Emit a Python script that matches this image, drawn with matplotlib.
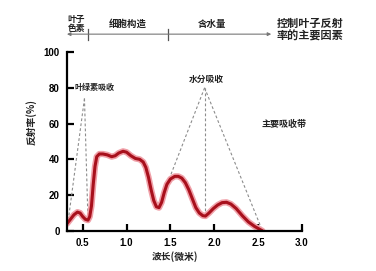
import matplotlib
matplotlib.use("Agg")
import matplotlib.pyplot as plt

plt.rcParams['font.family'] = ['Noto Sans CJK SC', 'DejaVu Sans']

# reflectance curve (wavelength in micron, reflectance in %)
wavelength = [0.32, 0.36, 0.40, 0.44, 0.47, 0.50, 0.53, 0.56, 0.58, 0.60, 0.62, 0.64,
              0.66, 0.69, 0.73, 0.78, 0.83, 0.87, 0.91, 0.96, 1.00, 1.05, 1.10, 1.15,
              1.19, 1.22, 1.25, 1.28, 1.31, 1.34, 1.37, 1.40, 1.43, 1.46, 1.50, 1.55,
              1.59, 1.63, 1.67, 1.71, 1.75, 1.79, 1.83, 1.87, 1.90, 1.94, 1.99, 2.04,
              2.09, 2.14, 2.19, 2.25, 2.32, 2.39, 2.46, 2.55]
reflectance = [4, 6.5, 9, 10.5, 10, 8, 6.5, 6, 8, 14, 26, 36,
               41.5, 43, 43, 42.5, 41.5, 42, 43.5, 44.5, 44, 42, 40.5, 40,
               38.5, 35.5, 30, 23, 17, 13.5, 13, 16, 21.5, 26, 29, 30.5,
               30.5, 29.5, 27, 23, 18, 13, 10, 8.5, 8.3, 10, 12.5, 14.5,
               15.8, 16, 15, 12.5, 8.5, 5, 2.5, 0]

x_ticks = [0.5, 1.0, 1.5, 2.0, 2.5, 3.0]
x_tick_labels = ['0.5', '1.0', '1.5', '2.0', '2.5', '3.0']
y_ticks = [0, 20, 40, 60, 80, 100]

# absorption triangles: apex then the feet
chlorophyll_apex = (0.52, 74)
chlorophyll_feet = [(0.33, 4), (0.56, 6)]
water_apex = (1.89, 80)
water_feet = [(1.47, 27), (1.89, 8.3), (2.55, 0)]

# top band: arrow ends and the two dividers
band_ends = (0.32, 2.65)
band_dividers = [0.56, 1.47]

fig = plt.figure(figsize=(3.76, 2.71), dpi=100)
ax = fig.add_axes([0.178, 0.148, 0.625, 0.66])

# dashed absorption lines
for foot in chlorophyll_feet:
    ax.plot([chlorophyll_apex[0], foot[0]], [chlorophyll_apex[1], foot[1]],
            ls=(0, (2.5, 2)), color='#8c8c8c', lw=0.8)
for foot in water_feet:
    ax.plot([water_apex[0], foot[0]], [water_apex[1], foot[1]],
            ls=(0, (2.5, 2)), color='#8c8c8c', lw=0.8)

# red curve with a soft glow under it
ax.plot(wavelength, reflectance, color='#f0a0a8', lw=4.5, solid_capstyle='round')
ax.plot(wavelength, reflectance, color='#a8101c', lw=2.2, solid_capstyle='round')

ax.set_xlim(0.32, 3.0)
ax.set_ylim(0, 100)
ax.set_xticks(x_ticks)
ax.set_xticklabels(x_tick_labels)
ax.set_yticks(y_ticks)
for side in ['top', 'right']:
    ax.spines[side].set_visible(False)
for side in ['left', 'bottom']:
    ax.spines[side].set_linewidth(1.6)
ax.tick_params(direction='in', length=5, width=1.6, pad=5)
for lab in ax.get_xticklabels() + ax.get_yticklabels():
    lab.set_family('Liberation Sans')
    lab.set_fontweight('bold')
    lab.set_fontsize(7)

txt = dict(color='#222222', fontweight='bold')

# labels
ax.text(0.41, 80, '叶绿素吸收', fontsize=5.8, va='center', ha='left', **txt)
ax.text(1.91, 84.5, '水分吸收', fontsize=6.3, va='center', ha='center', **txt)
ax.text(2.79, 59.5, '主要吸收带', fontsize=6.5, va='center', ha='center', **txt)

fig.text(31 / 376, 1 - 122 / 271, '反射率(%)', fontsize=7, rotation=90,
         va='center', ha='center', **txt)
fig.text(175 / 376, 1 - 257 / 271, '波长(微米)', fontsize=7,
         va='center', ha='center', **txt)

# top band with arrows
band_y = 110
ax.annotate('', xy=(band_ends[1], band_y), xytext=(band_ends[0], band_y),
            arrowprops=dict(arrowstyle='<|-|>', color='#777777', lw=0.8,
                            mutation_scale=5, shrinkA=0, shrinkB=0),
            annotation_clip=False)
for d in band_dividers:
    ax.plot([d, d], [band_y - 3, band_y + 3], color='#555555', lw=0.9, clip_on=False)

ax.text(0.43, 110.5, '叶子\n色素', fontsize=6.3, ha='center', va='bottom',
        linespacing=1.0, **txt)
ax.text(1.01, 113, '细胞构造', fontsize=6.8, ha='center', va='bottom', **txt)
ax.text(1.98, 113, '含水量', fontsize=6.8, ha='center', va='bottom', **txt)
fig.text(277 / 376, 1 - 30 / 271, '控制叶子反射\n率的主要因素', fontsize=8,
         ha='left', va='center', linespacing=1.0, **txt)

fig.savefig('out.png', dpi=100, facecolor='white')
